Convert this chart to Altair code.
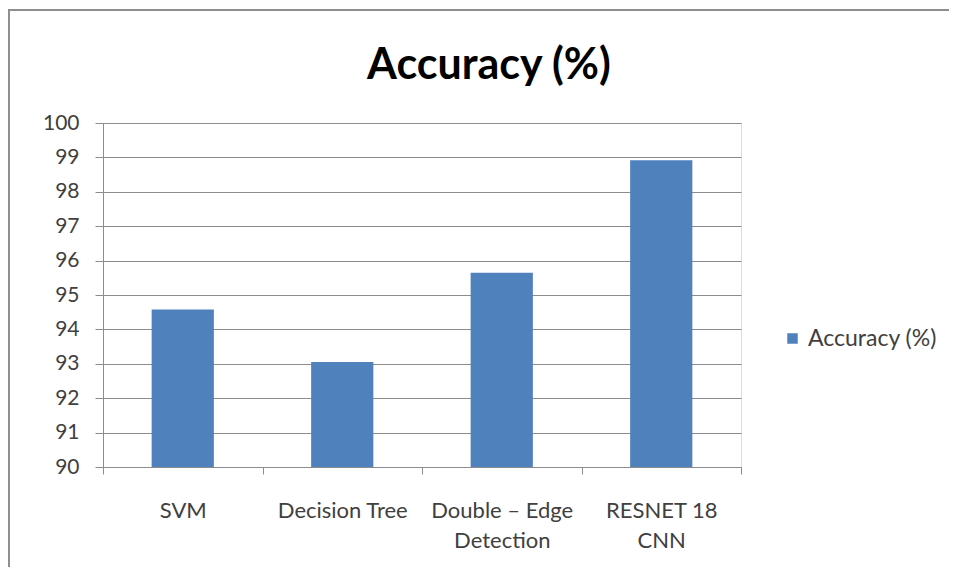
import altair as alt
import pandas as pd

methods = ["SVM", "Decision Tree", "Double – Edge\nDetection", "RESNET 18\nCNN"]
accuracy = [94.58, 93.05, 95.65, 98.92]
series_name = "Accuracy (%)"
chart_title = "Accuracy (%)"
y_ticks = [90, 91, 92, 93, 94, 95, 96, 97, 98, 99, 100]

df = pd.DataFrame({"method": methods, "accuracy": accuracy, "series": [series_name] * len(methods)})
deco_df = pd.DataFrame({"title": [chart_title]})

FONT = "Lato"
GRAY_TXT = "#404040"
GRID = "#8c8c8c"

bars = alt.Chart(df).mark_bar(width=alt.RelativeBandSize(0.39), color="#4F81BD", clip=True).encode(
    x=alt.X("method:N", sort=methods, title=None,
            scale=alt.Scale(paddingInner=0, paddingOuter=0),
            axis=alt.Axis(labelAngle=0, tickBand="extent", labelExpr="split(datum.label, '\\n')",
                          labelFontSize=22, labelColor=GRAY_TXT, labelFont=FONT,
                          labelPadding=26, labelLineHeight=30, tickSize=7, tickColor=GRID,
                          domainColor=GRID, labelLimit=300)),
    y=alt.Y("accuracy:Q", title=None,
            scale=alt.Scale(domain=[90, 100], zero=False, nice=False),
            axis=alt.Axis(values=y_ticks, labelFontSize=21, labelColor=GRAY_TXT, labelFont=FONT,
                          tickSize=8, tickColor=GRID, domainColor=GRID, gridColor=GRID,
                          labelPadding=16, grid=True)),
    color=alt.Color("series:N", title=None,
                    scale=alt.Scale(range=["#4F81BD"]),
                    legend=alt.Legend(orient="none", legendX=678, legendY=204,
                                      labelFontSize=23, labelColor=GRAY_TXT, labelFont=FONT,
                                      labelOffset=4,
                                      symbolType="square", symbolSize=110, symbolStrokeWidth=0)),
)

border = alt.Chart(deco_df).mark_rect(fill=None, stroke="#8f8f8f", strokeWidth=2).encode(
    x=alt.value(-94), x2=alt.value(848), y=alt.value(-113), y2=alt.value(480)
)

title = alt.Chart(deco_df).mark_text(font=FONT, fontSize=43, fontWeight="bold", color="#000000",
                                     align="center", baseline="alphabetic").encode(
    x=alt.value(386), y=alt.value(-44), text="title:N"
)

chart = alt.layer(border, bars, title).properties(
    width=638, height=344,
    autosize=alt.AutoSizeParams(type="none"),
    padding={"left": 95, "top": 115, "right": 208, "bottom": 100},
).configure_view(stroke=None).configure(background="white")

chart.save("out.html", embed_options={"renderer": "svg", "actions": False})
